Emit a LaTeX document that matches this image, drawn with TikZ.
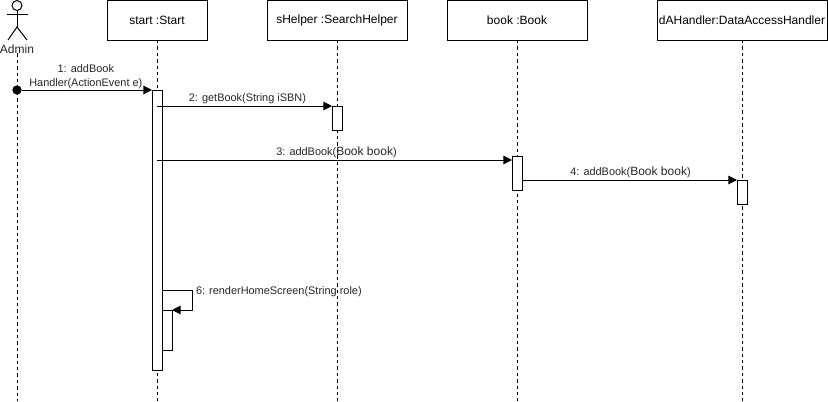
\documentclass[tikz,border=0pt]{standalone}
\usepackage{fontspec}
\setmainfont{Liberation Sans}
\usetikzlibrary{arrows.meta}
\begin{document}
\begin{tikzpicture}[x=.75pt,y=-.75pt,inner sep=0pt,outer sep=0pt,line width=.75pt,
objblock/.style={draw,rectangle,fill=white,minimum height=30pt,font=\fontsize{9}{11}\selectfont},
actblock/.style={draw,rectangle,fill=white,minimum width=7.5pt},
lifeline/.style={dashed,dash pattern=on 2.6pt off 2.2pt},
msg/.style={-{Triangle[length=6.5pt,width=6.5pt]}},
msglabel/.style={font=\fontsize{8.2}{10}\selectfont,align=center,text=black!85}]
\useasboundingbox (0,0) rectangle (828,401);
% object boxes
\draw (157,20) node[objblock,minimum width=75pt] (start) {start :Start};
\draw (337,20) node[objblock,minimum width=105pt] (sHelper) {sHelper :SearchHelper};
\draw (517,20) node[objblock,minimum width=105pt] (book) {book :Book};
\draw (742,20) node[objblock,minimum width=127.5pt] (dAH) {dAHandler:DataAccessHandler};
% actor
\draw (17,5.5) node[draw,circle,minimum size=7.5pt] (head) {};
\draw (17,49) node[font=\fontsize{9}{11}\selectfont,text=black!85] (admin) {Admin};
\draw (head.south) -- (17,27) coordinate (hip);
\draw (7,14) -- (28,14);
\draw (8,40) -- (hip) -- (27,40);
% lifelines
\foreach \who/\xpos in {start/157,sHelper/337,book/517,dAH/742}
  \draw[lifeline] (\who.south) -- (\xpos,401);
\draw[lifeline] (admin.south) -- (17,401);
% activations
\draw (157,230) node[actblock,minimum height=210pt] (actStart) {};
\draw (337,118) node[actblock,minimum height=18pt] (actHelper) {};
\draw (517,173) node[actblock,minimum height=25.5pt] (actBook) {};
\draw (742,192) node[actblock,minimum height=18pt] (actDAH) {};
\draw (167,330) node[actblock,minimum height=30pt] (actSelf) {};
% messages
\draw (17,90) node[fill=black,circle,minimum size=7pt] (found) {};
\draw[msg] (found) -- (actStart.north west) node[pos=.5,above=1.3pt,xshift=-.75pt,msglabel] (m1) {1: addBook\\Handler(ActionEvent e)};
\draw[msg] (157,106) coordinate (m2s) -- (actHelper.north west) node[pos=.5,above=1.6pt,xshift=2.2pt,msglabel] (m2) {2: getBook(String iSBN)};
\draw[msg] (157,160) coordinate (m3s) -- (m3s -| actBook.west) node[pos=.5,above=2pt,xshift=1.5pt,msglabel] (m3) {3: addBook({\fontsize{9}{10}\selectfont Book book})};
\draw[msg] (522,180) coordinate (m4s) -- (actDAH.north west) node[pos=.5,above=2pt,xshift=.75pt,msglabel] (m4) {4: addBook({\fontsize{9}{10}\selectfont Book book})};
\draw[msg] (162,290) coordinate (m6s) -- ++(30,0) -- ++(0,20) -- (actSelf.north east);
\draw (196,291.5) node[anchor=west,msglabel] (m6) {6: renderHomeScreen(String role)};
\end{tikzpicture}
\end{document}
